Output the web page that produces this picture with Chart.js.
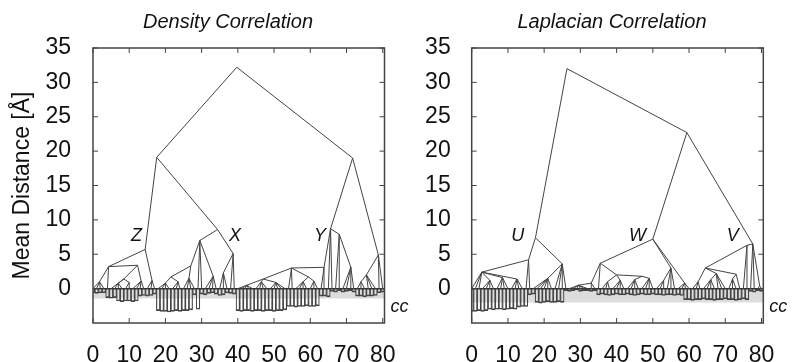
<!DOCTYPE html>
<html>
<head>
<meta charset="utf-8">
<script src="https://cdn.jsdelivr.net/npm/chart.js@4"></script>
<style>
  html, body { margin: 0; padding: 0; background: #fff; }
  #wrap { position: relative; width: 797px; height: 362px; overflow: hidden; }
  .box { position: absolute; top: 0; height: 362px; }
  #left { left: 0; width: 420px; }
  #right { left: 400px; width: 397px; }
</style>
</head>
<body>
<div id="wrap">
  <div class="box" id="left"><canvas id="density"></canvas></div>
  <div class="box" id="right"><canvas id="laplacian"></canvas></div>
</div>
<script>
const xTicks = [0, 10, 20, 30, 40, 50, 60, 70, 80];
const yTicks = [0, 5, 10, 15, 20, 25, 30, 35];
const xMax = 80.5;

// Density correlation dendrogram: internal nodes (x = leaf position, y = mean distance)
const densNodeX = [39.7, 17.6, 71.7, 14.4, 34.4, 4.3, 12.3, 16.3, 1.8, 8.5, 13.3, 29.5, 38.7, 27.0, 33.2, 21.5, 26.5, 36.0, 65.6, 78.8, 68.0, 63.8, 54.8, 47.0, 59.5, 71.2, 75.5, 7.0, 10.0, 20.0, 23.5, 42.5, 46.5, 50.5, 58.0, 61.0, 74.0];
const densNodeY = [32.2, 19.1, 19.0, 5.7, 8.6, 3.2, 3.4, 1.2, 1.0, 1.4, 1.1, 7.0, 5.1, 3.3, 1.8, 1.7, 1.5, 2.3, 8.7, 4.9, 7.9, 3.1, 3.0, 1.4, 1.7, 3.1, 2.0, 0.8, 0.9, 0.8, 1.0, 0.5, 1.0, 0.9, 1.0, 1.1, 1.0];
const densNodeParent = [-1, 0, 0, 1, 1, 3, 5, 3, 5, 6, 6, 4, 4, 11, 11, 13, 13, 12, 2, 2, 18, 18, 21, 22, 22, 20, 19, 9, 9, 15, 15, 23, 23, 23, 24, 24, 26];
const densLeafParent = [8, 8, 8, 8, 5, 9, 27, 27, 27, 28, 28, 10, 10, 10, 10, 7, 7, 7, 29, 29, 29, 29, 30, 30, 30, 16, 16, 16, 16, 11, 11, 14, 14, 14, 14, 17, 17, 17, 12, 12,
  31, 31, 31, 31, 31, 32, 32, 32, 32, 33, 33, 33, 33, 33, 22, 22, 34, 34, 34, 34, 35, 35, 35, 21, 21, 18, 18, 20, 20, 25, 25, 25, 25, 36, 36, 36, 26, 26, 26, 19, 19];
const densBars = [-0.6, -0.7, -0.6, -0.6, -1.3, -1.4, -1.3, -1.8, -1.9, -1.8,
  -1.8, -1.9, -1.8, -1.1, -1.0, -1.1, -1.0, -0.8, -3.2, -3.3,
  -3.3, -3.4, -3.3, -3.2, -3.3, -3.2, -3.2, -3.1, -0.9, -3.0,
  -0.8, -0.9, -0.7, -0.6, -0.8, -1.0, -0.9, -0.6, -0.7, -0.8,
  -3.2, -3.3, -3.2, -3.2, -3.3, -3.2, -3.2, -3.3, -3.2, -3.2,
  -3.3, -3.2, -3.2, -3.1, -2.6, -2.6, -2.7, -2.6, -2.6, -2.5,
  -2.6, -2.6, -2.5, -1.1, -1.1, -1.2, -0.4, -0.5, -0.3, -0.5,
  -0.4, -0.3, -0.5, -1.1, -1.1, -1.2, -1.1, -1.1, -1.0, -0.6,
  -0.5];
const densBand = -1.45;
const densLetters = ['Z', 'X', 'Y'];
const densLetterX = [12.0, 39.2, 62.7];
const densLetterY = [7.7, 7.7, 7.7];

// Laplacian correlation dendrogram
const lapNodeX = [26.3, 17.6, 59.4, 15.7, 25.0, 2.8, 50.0, 77.6, 35.5, 58.8, 55.0, 76.0, 64.5, 40.0, 33.0, 47.0, 29.5, 5.0, 8.5, 12.5, 21.0, 37.5, 41.0, 45.0, 49.0, 53.0, 62.5, 67.5, 73.0, 66.0, 72.0, 79.5];
const lapNodeY = [32.0, 7.4, 22.7, 4.2, 3.6, 2.4, 7.2, 6.5, 3.7, 0.8, 3.0, 6.3, 3.0, 2.0, 0.8, 1.8, 0.5, 1.2, 1.6, 1.4, 1.5, 1.0, 1.2, 1.3, 1.5, 1.2, 1.0, 2.2, 2.1, 1.3, 1.4, 0.4];
const lapNodeParent = [-1, 0, 0, 1, 1, 3, 2, 2, 6, 6, 6, 7, 11, 8, 8, 13, 14, 5, 5, 5, 4, 13, 13, 15, 15, 10, 12, 12, 12, 27, 28, 7];
const lapLeafParent = [5, 5, 5, 17, 17, 17, 17, 18, 18, 18, 18, 19, 19, 19, 19, 3, 3, 20, 20, 20, 20, 20, 20, 4, 4, 4, 4, 16, 16, 16, 16, 16, 16, 14, 14, 8,
  21, 21, 21, 22, 22, 22, 22, 23, 23, 23, 23, 24, 24, 24, 24, 25, 25, 25, 10, 10, 10, 9, 9, 9, 9, 26, 26, 26, 29, 29, 29, 29, 27, 27, 27, 30, 30, 30, 28, 11, 11, 7, 7, 31, 31];
const lapBars = [-3.3, -3.3, -3.2, -3.3, -3.2, -3.0, -3.1, -3.0, -3.0, -3.1,
  -3.0, -2.9, -3.0, -2.7, -2.6, -2.6, -0.9, -0.8, -2.0, -2.1,
  -2.0, -1.9, -2.0, -2.0, -1.9, -2.0, -0.3, -0.4, -0.3, -0.2,
  -0.4, -0.3, -0.3, -0.4, -0.3, -0.9, -0.8, -0.9, -1.0, -0.9,
  -0.8, -0.9, -0.9, -0.8, -0.9, -1.0, -0.9, -0.8, -0.9, -0.9,
  -0.8, -0.9, -0.9, -1.0, -0.9, -0.9, -1.0, -0.9, -1.0, -1.6,
  -1.6, -1.7, -1.6, -1.6, -1.5, -1.6, -1.6, -1.7, -1.6, -1.6,
  -1.5, -1.6, -1.6, -1.7, -1.6, -1.5, -1.6, -0.4, -0.5, -0.3,
  -0.4];
const lapBand = -2.0;
const lapLetters = ['U', 'W', 'V'];
const lapLetterX = [12.7, 45.8, 72.1];
const lapLetterY = [7.7, 7.7, 7.7];

const fontFamily = '"Liberation Sans", Arial, Helvetica, sans-serif';
Chart.defaults.font.family = fontFamily;
Chart.defaults.color = '#111';

// every link of the tree becomes a two point piece of one line dataset
function treeSegments(nodeX, nodeY, nodeParent, leafParent) {
  const pts = [];
  const link = (x, y, p) => {
    pts.push({x: x, y: y}, {x: nodeX[p], y: nodeY[p]}, {x: nodeX[p], y: null});
  };
  nodeParent.forEach((p, i) => { if (p >= 0) link(nodeX[i], nodeY[i], p); });
  leafParent.forEach((p, i) => link(i, 0, p));
  return pts;
}

const decor = {
  id: 'decor',
  afterDraw(chart, args, opts) {
    const {ctx, chartArea: a, scales: {x, y}} = chart;
    ctx.save();
    ctx.strokeStyle = '#444';
    ctx.lineWidth = 1.5;
    ctx.strokeRect(a.left, a.top, a.width, a.height);
    ctx.lineWidth = 1;
    ctx.beginPath();
    xTicks.forEach(v => {
      const px = x.getPixelForValue(v);
      ctx.moveTo(px, a.bottom); ctx.lineTo(px, a.bottom - 5);
      ctx.moveTo(px, a.top); ctx.lineTo(px, a.top + 5);
    });
    yTicks.forEach(v => {
      const py = y.getPixelForValue(v);
      ctx.moveTo(a.left, py); ctx.lineTo(a.left + 5, py);
      ctx.moveTo(a.right, py); ctx.lineTo(a.right - 5, py);
    });
    ctx.stroke();

    ctx.fillStyle = '#111';
    ctx.textAlign = 'center';
    ctx.textBaseline = 'middle';
    ctx.font = 'italic 18px ' + fontFamily;
    opts.letters.forEach((t, i) => {
      ctx.fillText(t, x.getPixelForValue(opts.letterX[i]), y.getPixelForValue(opts.letterY[i]));
    });
    ctx.font = 'italic 20px ' + fontFamily;
    ctx.fillText(opts.title, opts.titleX, 22);
    ctx.textAlign = 'left';
    ctx.font = 'italic 18px ' + fontFamily;
    ctx.fillText('cc', a.right + 6, a.bottom - 16);
    ctx.restore();
  }
};

function makeChart(id, c) {
  const bars = c.bars.map((v, i) => ({x: i, y: v}));
  return new Chart(document.getElementById(id), {
    type: 'line',
    data: {
      datasets: [
        { data: treeSegments(c.nodeX, c.nodeY, c.nodeParent, c.leafParent), borderColor: '#444', borderWidth: 1, pointRadius: 0, order: 0 },
        { data: [{x: 0, y: 0}, {x: xMax, y: 0}], borderColor: '#333', borderWidth: 1.5, pointRadius: 0, order: 1 },
        { type: 'bar', data: bars, backgroundColor: 'rgba(0,0,0,0)', borderColor: '#444',
          borderWidth: {top: 0, right: 0.5, bottom: 1, left: 0.5}, barPercentage: 1, categoryPercentage: 1, order: 2 },
        { data: [{x: 0, y: c.band}, {x: xMax, y: c.band}], fill: {value: 0}, backgroundColor: '#dcdcdc', borderWidth: 0, pointRadius: 0, order: 3 }
      ]
    },
    options: {
      responsive: true,
      maintainAspectRatio: false,
      animation: false,
      layout: { padding: { top: 48, right: c.rightPad, left: 0, bottom: 0 } },
      plugins: {
        legend: { display: false },
        tooltip: { enabled: false },
        decor: { title: c.title, titleX: c.titleX, letters: c.letters, letterX: c.letterX, letterY: c.letterY }
      },
      scales: {
        x: {
          type: 'linear', min: 0, max: xMax, offset: false,
          grid: { display: false }, border: { display: false },
          ticks: { autoSkip: false, maxRotation: 0, padding: 11, font: { size: 23 }, color: '#111' },
          afterBuildTicks: s => { s.ticks = xTicks.map(v => ({value: v})); },
          afterFit: s => { s.height = 39; }
        },
        y: {
          min: -5, max: 35,
          grid: { display: false }, border: { display: false },
          ticks: { padding: c.tickPad, font: { size: 23 }, color: '#111' },
          title: { display: !!c.yTitle, text: c.yTitle || '', font: { size: 23 }, padding: { top: 9, bottom: 0 }, color: '#111' },
          afterBuildTicks: s => { s.ticks = yTicks.map(v => ({value: v})); },
          afterFit: s => { s.width = c.yWidth; }
        }
      }
    },
    plugins: [decor]
  });
}

makeChart('density', {
  nodeX: densNodeX, nodeY: densNodeY, nodeParent: densNodeParent, leafParent: densLeafParent,
  bars: densBars, band: densBand, letters: densLetters, letterX: densLetterX, letterY: densLetterY,
  title: 'Density Correlation', titleX: 228, yTitle: 'Mean Distance [Å]', yWidth: 93, rightPad: 35.5, tickPad: 14
});

makeChart('laplacian', {
  nodeX: lapNodeX, nodeY: lapNodeY, nodeParent: lapNodeParent, leafParent: lapLeafParent,
  bars: lapBars, band: lapBand, letters: lapLetters, letterX: lapLetterX, letterY: lapLetterY,
  title: 'Laplacian Correlation', titleX: 212, yWidth: 71.7, rightPad: 33.7, tickPad: 13
});
</script>
</body>
</html>
